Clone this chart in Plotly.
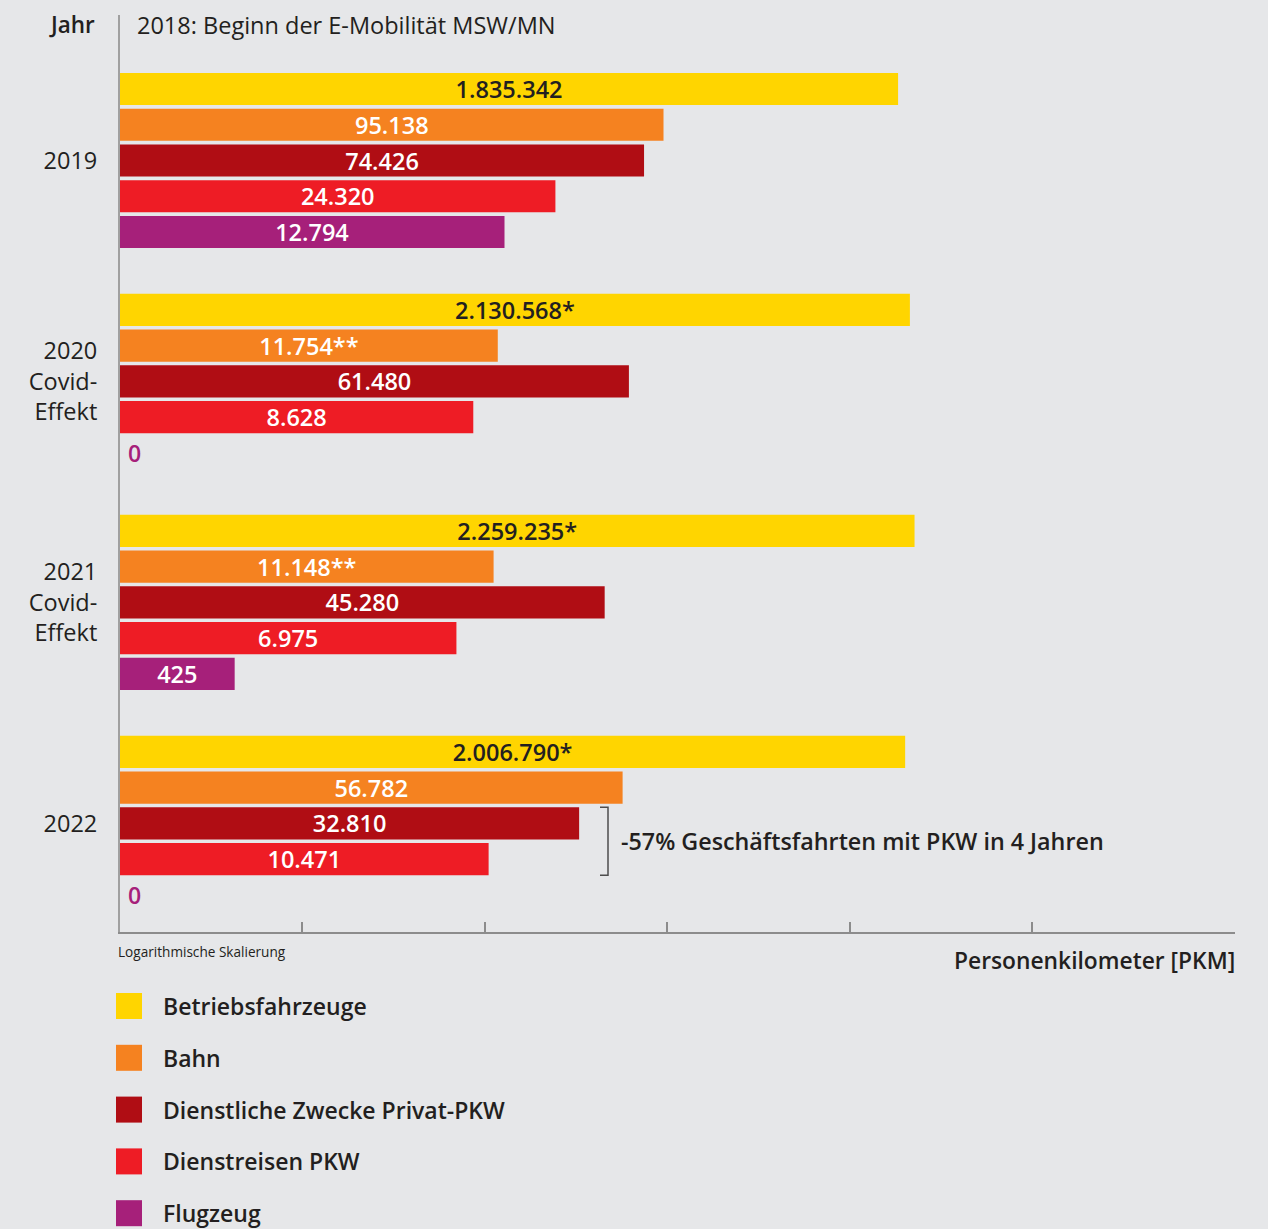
import plotly.graph_objects as go

# ---------------- data ----------------
years = ["2019", "2020<br>Covid-<br>Effekt", "2021<br>Covid-<br>Effekt", "2022"]
series = ["Betriebsfahrzeuge", "Bahn", "Dienstliche Zwecke Privat-PKW",
          "Dienstreisen PKW", "Flugzeug"]
colors = ["#FFD500", "#F58220", "#B00D14", "#EE1C25", "#A6207A"]
text_colors = ["#231F20", "#FFFFFF", "#FFFFFF", "#FFFFFF", "#FFFFFF"]

betriebsfahrzeuge = [1835342, 2130568, 2259235, 2006790]
bahn = [95138, 11754, 11148, 56782]
privat_pkw = [74426, 61480, 45280, 32810]
dienstreisen_pkw = [24320, 8628, 6975, 10471]
flugzeug = [12794, 0, 425, 0]

labels_betriebsfahrzeuge = ["1.835.342", "2.130.568*", "2.259.235*", "2.006.790*"]
labels_bahn = ["95.138", "11.754**", "11.148**", "56.782"]
labels_privat_pkw = ["74.426", "61.480", "45.280", "32.810"]
labels_dienstreisen_pkw = ["24.320", "8.628", "6.975", "10.471"]
labels_flugzeug = ["12.794", "0", "425", "0"]

values = [betriebsfahrzeuge, bahn, privat_pkw, dienstreisen_pkw, flugzeug]
labels = [labels_betriebsfahrzeuge, labels_bahn, labels_privat_pkw,
          labels_dienstreisen_pkw, labels_flugzeug]

title_left = "Jahr"
title_top = "2018: Beginn der E-Mobilität MSW/MN"
note_text = "-57% Geschäftsfahrten mit PKW in 4 Jahren"
scale_note = "Logarithmische Skalierung"
x_title = "Personenkilometer [PKM]"

# ---------------- layout constants ----------------
W, H = 1268, 1229
ML, MR, MT, MB = 120, 33, 15, 297
PW, PH = W - ML - MR, H - MT - MB
GROUP_STEP = 6.18
FONT = "Open Sans"
DARK = "#231F20"
BG = "#E6E7E9"


def px_x(p):
    return (p - ML) / PW


def px_y(p):
    return (MT + PH - p) / PH


fig = go.Figure()
annotations = []

for s, name in enumerate(series):
    ypos = [g * GROUP_STEP + s for g in range(len(years))]
    xs = [v if v > 0 else None for v in values[s]]
    txt = [labels[s][g] if values[s][g] > 0 else "" for g in range(len(years))]
    fig.add_trace(go.Bar(
        x=xs, y=ypos, orientation="h", width=0.9, name=name,
        marker=dict(color=colors[s], line=dict(width=0)),
        text=txt, textposition="inside", insidetextanchor="middle",
        textangle=0, constraintext="none",
        textfont=dict(color=text_colors[s], size=23.5, family=FONT, weight=600),
        showlegend=False, hoverinfo="x+name",
    ))
    for g in range(len(years)):
        if values[s][g] == 0:
            annotations.append(dict(
                x=2.035, y=ypos[g], xref="x", yref="y", text=labels[s][g],
                showarrow=False, xanchor="left", yanchor="middle",
                font=dict(color=colors[s], size=23, family=FONT, weight=600)))

# bracket next to the 2022 PKW bars
g_last = len(years) - 1
y_top = g_last * GROUP_STEP + 2 - 0.45
y_bot = g_last * GROUP_STEP + 3 + 0.45
bx0, bx1 = px_x(600), px_x(608)
fig.add_shape(type="path", xref="paper", yref="y",
              path=f"M {bx0} {y_top} L {bx1} {y_top} L {bx1} {y_bot} L {bx0} {y_bot}",
              line=dict(color="#4D4D4D", width=1.5))
annotations.append(dict(
    x=px_x(619), y=g_last * GROUP_STEP + 2.5, xref="paper", yref="y",
    text=note_text, showarrow=False, xanchor="left", yanchor="middle",
    font=dict(color=DARK, size=23.3, family=FONT, weight=600)))

# titles / notes
annotations.append(dict(x=px_x(97), y=px_y(25), xref="paper", yref="paper",
                        text=title_left, showarrow=False, xanchor="right", yanchor="middle",
                        font=dict(color=DARK, size=22.5, family=FONT, weight=600)))
annotations.append(dict(x=px_x(135), y=px_y(25), xref="paper", yref="paper",
                        text=title_top, showarrow=False, xanchor="left", yanchor="middle",
                        font=dict(color=DARK, size=23.5, family=FONT)))
annotations.append(dict(x=px_x(116), y=px_y(951), xref="paper", yref="paper",
                        text=scale_note, showarrow=False, xanchor="left", yanchor="middle",
                        font=dict(color=DARK, size=13.6, family=FONT)))
annotations.append(dict(x=px_x(1237), y=px_y(960), xref="paper", yref="paper",
                        text=x_title, showarrow=False, xanchor="right", yanchor="middle",
                        font=dict(color=DARK, size=22.8, family=FONT, weight=600)))

# manual legend
for s, name in enumerate(series):
    cy = 1006 + 51.8 * s
    fig.add_shape(type="rect", xref="paper", yref="paper",
                  x0=px_x(116), x1=px_x(142), y0=px_y(cy - 13), y1=px_y(cy + 13),
                  fillcolor=colors[s], line=dict(width=0))
    annotations.append(dict(x=px_x(161), y=px_y(cy), xref="paper", yref="paper",
                            text=name, showarrow=False, xanchor="left", yanchor="middle",
                            font=dict(color=DARK, size=23, family=FONT, weight=600)))

n_rows = (len(years) - 1) * GROUP_STEP + len(series) - 1
fig.update_layout(
    width=W, height=H,
    margin=dict(l=ML, r=MR, t=MT, b=MB, pad=0),
    paper_bgcolor=BG, plot_bgcolor=BG,
    barmode="overlay",
    font=dict(family=FONT, color=DARK),
    annotations=annotations,
    xaxis=dict(type="log", range=[2, 8.11], showgrid=False, zeroline=False,
               showline=True, linecolor="#8C8C8C", linewidth=1.5,
               tickvals=[1e3, 1e4, 1e5, 1e6, 1e7], ticks="inside", ticklen=10,
               tickcolor="#8C8C8C", tickwidth=1.5, showticklabels=False),
    yaxis=dict(range=[n_rows + 1.04, -2.07], showgrid=False, zeroline=False,
               showline=True, linecolor="#A0A0A0", linewidth=2,
               tickvals=[g * GROUP_STEP + 2 for g in range(len(years))],
               ticktext=years, ticks="", ticklabelstandoff=16,
               tickfont=dict(size=23.5, family=FONT, color=DARK)),
)

fig.write_html("out.html")
